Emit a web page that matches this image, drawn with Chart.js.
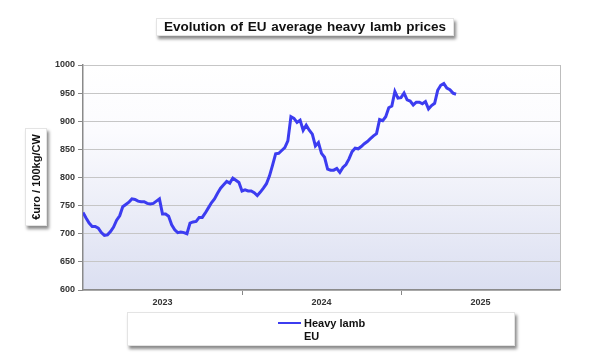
<!DOCTYPE html>
<html>
<head>
<meta charset="utf-8">
<script src="https://cdn.jsdelivr.net/npm/chart.js@4.4.0/dist/chart.umd.min.js"></script>
<style>
    body { margin: 0; background: #fff; font-family: "Liberation Sans", Arial, sans-serif; }
    #wrap { position: relative; width: 600px; height: 353px; }
    canvas { position: absolute; left: 0; top: 0; }
    .box {
        position: absolute;
        background: #fff;
        border: 1px solid #e4e4e4;
        box-shadow: 2px 3px 3px #8a8a8a;
        font-weight: bold;
        color: #111;
    }
    #title { left: 156px; top: 18px; width: 296px; height: 16px; font-size: 13.5px; line-height: 16px; text-align: center; word-spacing: 1px; }
    #ytitle { left: 25px; top: 128px; width: 20px; height: 96px; }
    #ytitle span {
        position: absolute; left: 50%; top: 50%;
        transform: translate(-50%, -50%) rotate(-90deg);
        white-space: nowrap; font-size: 11px;
    }
    #legend { left: 127px; top: 312px; width: 386px; height: 32px; font-size: 11px; }
    #legend .swatch { position: absolute; left: 150px; top: 9px; width: 23px; height: 0; border-top: 2px solid #3c3cf0; }
    #legend .lbl { position: absolute; left: 176px; top: 4px; line-height: 13px; }
</style>
</head>
<body>
<div id="wrap">
    <canvas id="chart" width="600" height="353"></canvas>
    <div class="box" id="title">Evolution of EU average heavy lamb prices</div>
    <div class="box" id="ytitle"><span>€uro / 100kg/CW</span></div>
    <div class="box" id="legend"><div class="swatch"></div><div class="lbl">Heavy lamb<br>EU</div></div>
</div>
<script>
const years = ['2023', '2024', '2025'];
const weeksPerYear = 52;
const seriesLabel = 'Heavy lamb EU';

// weekly prices, week 1 of 2023 onwards
const prices = [
    738, 728, 719, 713, 713, 710, 702, 697, 698, 704,
    712, 724, 732, 748, 752, 756, 762, 761, 758, 757,
    757, 754, 753, 754, 758, 762, 735, 735, 731, 716,
    707, 702, 703, 702, 700, 719, 721, 722, 729, 729,
    737, 746, 755, 762, 772, 781, 787, 793, 790, 799,
    795, 791, 776, 778, 776, 776, 773, 768, 774, 781,
    789, 803, 822, 842, 843, 848, 853, 865, 908, 905,
    898, 902, 884, 893, 884, 877, 856, 862, 843, 836,
    815, 813, 813, 816, 809, 818, 823, 833, 846, 852,
    851, 855, 860, 864, 869, 874, 878, 903, 901, 908,
    924, 927, 953, 941, 942, 950, 938, 936, 929, 934,
    934, 931, 935, 922, 928, 932, 955, 964, 967, 959,
    956, 950, 948
];

const yMin = 600;
const yMax = 1000;
const yStep = 50;

const points = prices.map((p, i) => ({ x: i, y: p }));
const xEnd = years.length * weeksPerYear;

const plotBackground = {
    id: 'plotBackground',
    beforeDraw(chart) {
        const { ctx, chartArea: a } = chart;
        const g = ctx.createLinearGradient(0, a.top, 0, a.bottom);
        g.addColorStop(0, '#ffffff');
        g.addColorStop(0.3, '#fbfbfe');
        g.addColorStop(1, '#dbdff1');
        ctx.save();
        ctx.fillStyle = g;
        ctx.fillRect(a.left, a.top, a.right - a.left, a.bottom - a.top);
        ctx.restore();
    }
};

const tickFont = { family: '"Liberation Sans", Arial, sans-serif', size: 9, weight: 'bold' };

new Chart(document.getElementById('chart'), {
    type: 'line',
    data: {
        datasets: [{
            label: seriesLabel,
            data: points,
            borderColor: '#3c3cf0',
            borderWidth: 3,
            pointRadius: 0,
            tension: 0,
            fill: false
        }]
    },
    options: {
        responsive: false,
        animation: false,
        devicePixelRatio: 1,
        layout: { padding: { top: 65, right: 40, left: 0, bottom: 0 } },
        plugins: {
            legend: { display: false },
            title: { display: false },
            tooltip: { enabled: false }
        },
        scales: {
            x: {
                type: 'linear',
                min: 0,
                max: xEnd,
                afterBuildTicks: s => {
                    const t = [];
                    for (let v = 0; v <= xEnd; v += weeksPerYear / 2) t.push({ value: v });
                    s.ticks = t;
                },
                afterFit: s => { s.height = 63; },
                ticks: {
                    autoSkip: false,
                    maxRotation: 0,
                    padding: 2,
                    color: '#333',
                    font: tickFont,
                    callback: v => (v % weeksPerYear === weeksPerYear / 2) ? years[Math.floor(v / weeksPerYear)] : ''
                },
                grid: {
                    drawOnChartArea: true,
                    tickLength: 5,
                    color: c => (c.tick && c.tick.value === xEnd) ? '#bdbdbd' : 'rgba(0,0,0,0)',
                    tickColor: c => (c.tick && c.tick.value % weeksPerYear === 0 && c.tick.value > 0 && c.tick.value < xEnd) ? '#888' : 'rgba(0,0,0,0)'
                },
                border: { color: '#8a8a8a', width: 1.5 }
            },
            y: {
                min: yMin,
                max: yMax,
                afterFit: s => { s.width = 83; },
                ticks: {
                    stepSize: yStep,
                    padding: 3,
                    color: '#333',
                    font: tickFont,
                    callback: v => String(v)
                },
                grid: { color: '#c6c6c6', tickLength: 5, tickColor: '#888' },
                border: { color: '#8a8a8a', width: 1.5 }
            }
        }
    },
    plugins: [plotBackground]
});
</script>
</body>
</html>
